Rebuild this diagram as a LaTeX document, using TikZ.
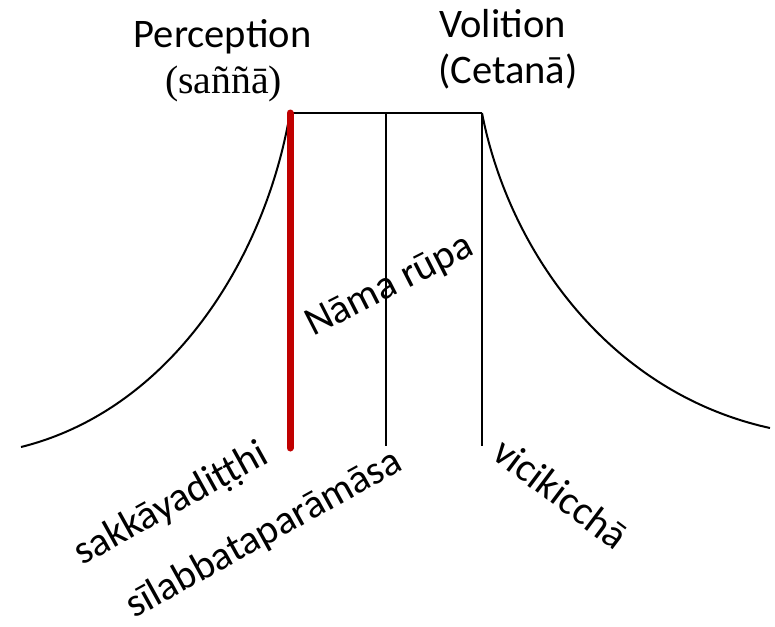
\documentclass[tikz,border=0pt]{standalone}
\usepackage{fontspec}
\setmainfont{Carlito}
\newfontfamily\serifpart{Liberation Serif}
\definecolor{darkred}{HTML}{C00000}
\begin{document}
\begin{tikzpicture}[x=0.75pt,y=-0.75pt,
  lbl/.style={inner sep=0pt,font=\fontsize{30.4}{34}\selectfont},
  thin/.style={line width=1.5pt,black},
  redline/.style={line width=5.25pt,darkred,line cap=round}]
\useasboundingbox (0,0) rectangle (775,626);
% coordinates
\coordinate (tl) at (290,113);
\coordinate (tm) at (386,113);
\coordinate (tr) at (482,113);
\coordinate (bl) at (290,448);
\coordinate (bm) at (386,446);
\coordinate (br) at (482,446);
\coordinate (lc) at (21,447);
\coordinate (rc) at (770,428);
% curves
\draw[thin] (lc) .. controls (170,410) and (265,260) .. (tl);
\draw[thin] (tr) .. controls (509,252) and (610,393) .. (rc);
% top line and verticals
\draw[thin] (tl) -- (tr);
\draw[thin] (tm) -- (bm);
\draw[thin] (tr) -- (br);
\draw[redline] (tl) -- (bl);
% labels
\node[lbl,anchor=base] (perc) at (222.5,47) {Perception};
\node[lbl,anchor=base,font=\fontsize{29.8}{34}\selectfont] (sanna) at (223.5,93) {\serifpart(saññā)};
\node[lbl,anchor=base] (vol) at (502.5,37) {Volition};
\node[lbl,anchor=base] (cet) at (508,83) {(Cetanā)};
\node[lbl,anchor=base west,rotate=27] (nama) at (313,337) {Nāma rūpa};
\node[lbl,anchor=base west,rotate=29] (sakk) at (82,566) {sakkāyadiṭṭhi};
\node[lbl,anchor=base west,rotate=29] (sila) at (134,619) {sīlabbataparāmāsa};
\node[lbl,anchor=base west,rotate=-37] (vici) at (490,457) {vicikicchā};
\end{tikzpicture}
\end{document}
